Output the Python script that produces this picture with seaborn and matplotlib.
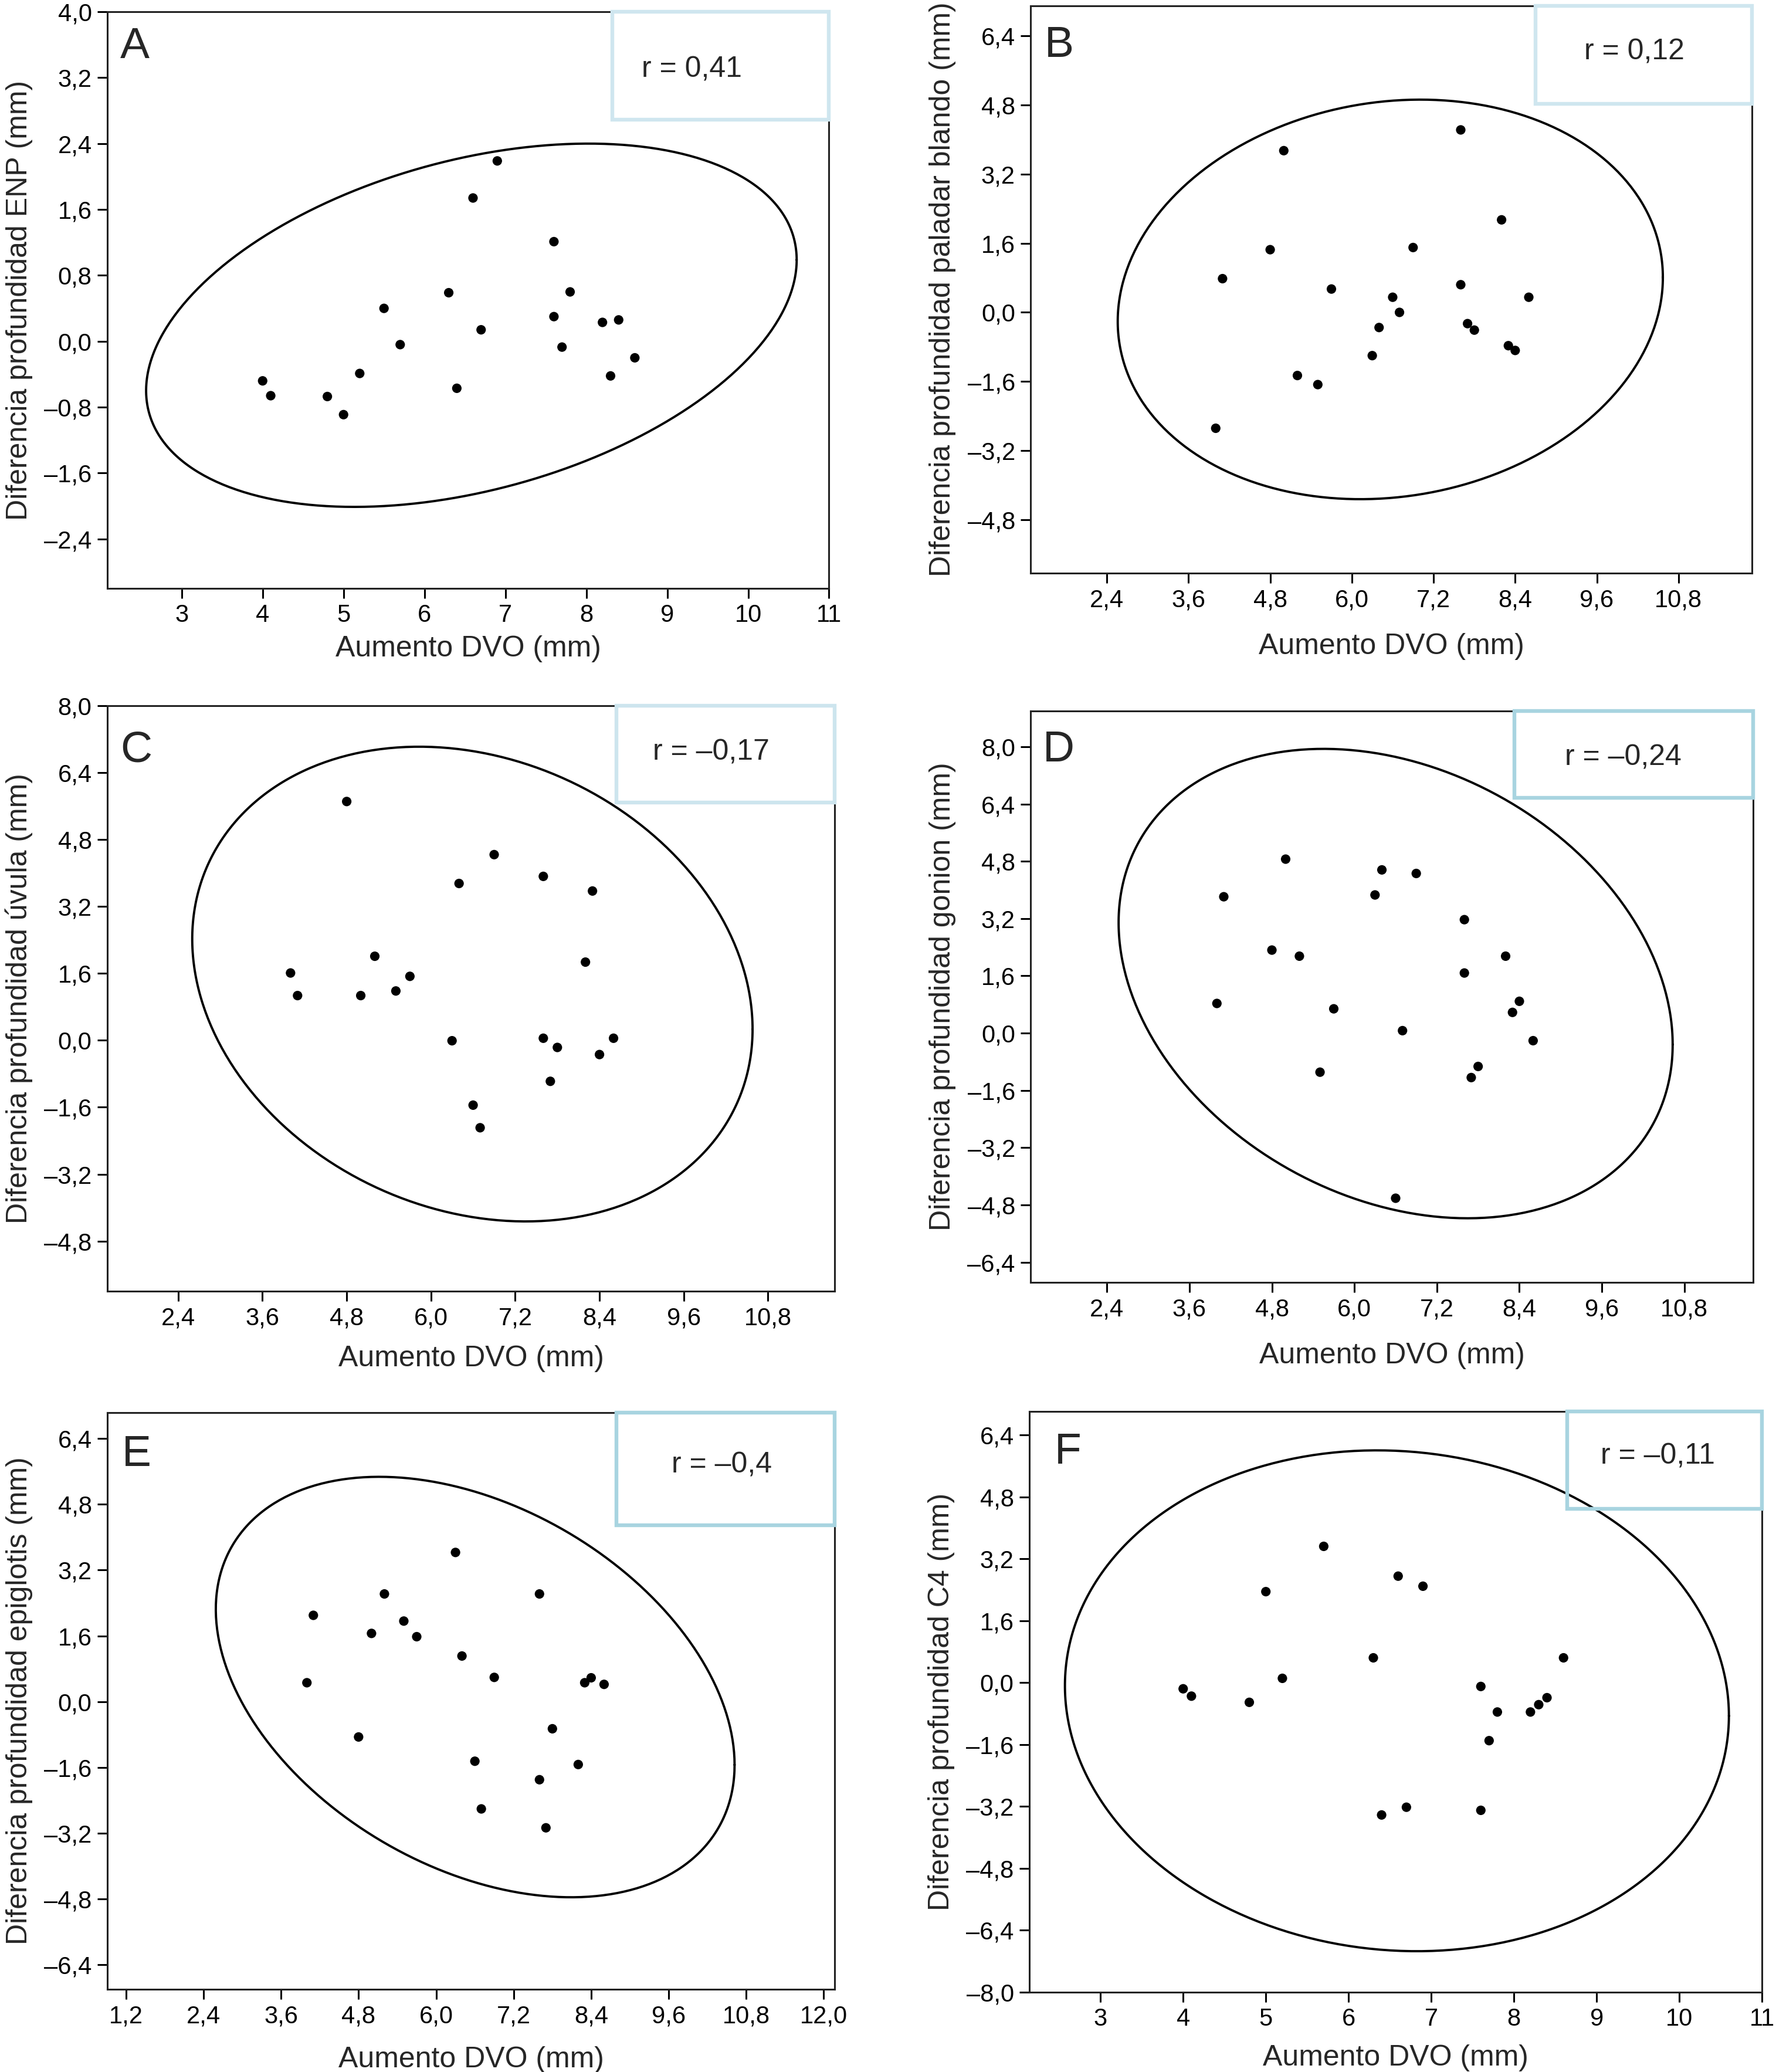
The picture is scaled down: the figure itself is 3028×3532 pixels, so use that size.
import numpy as np
import pandas as pd
import matplotlib.pyplot as plt
from matplotlib.patches import Rectangle
import seaborn as sns

# Aumento DVO (mm), mismo para todos los pacientes
dvo = [4.0, 4.1, 4.8, 5.0, 5.2, 5.5, 5.7, 6.3, 6.4, 6.6,
       6.7, 6.9, 7.6, 7.6, 7.7, 7.8, 8.2, 8.3, 8.4, 8.6]

# Diferencias de profundidad (mm) por panel
enp = [-0.48, -0.66, -0.67, -0.89, -0.39, 0.40, -0.04, 0.59, -0.57, 1.74,
       0.14, 2.19, 1.21, 0.30, -0.07, 0.60, 0.23, -0.42, 0.26, -0.20]
paladar = [-2.68, 0.78, 1.45, 3.74, -1.46, -1.67, 0.54, -1.00, -0.35, 0.35,
           0.00, 1.50, 4.22, 0.64, -0.26, -0.41, 2.14, -0.77, -0.88, 0.35]
uvula = [1.61, 1.07, 5.71, 1.07, 2.01, 1.18, 1.53, -0.01, 3.75, -1.55,
         -2.09, 4.44, 3.92, 0.05, -0.98, -0.17, 1.87, 3.57, -0.34, 0.05]
gonion = [0.83, 3.81, 2.32, 4.86, 2.15, -1.09, 0.68, 3.86, 4.56, -4.61,
          0.07, 4.46, 3.17, 1.68, -1.24, -0.93, 2.15, 0.58, 0.89, -0.21]
epiglotis = [0.46, 2.10, -0.86, 1.66, 2.62, 1.96, 1.58, 3.63, 1.11, -1.45,
             -2.61, 0.59, 2.62, -1.90, -3.07, -0.66, -1.53, 0.46, 0.58, 0.42]
# en C4 solo se ven 19 puntos (falta 5.5)
dvo_c4 = [4.0, 4.1, 4.8, 5.0, 5.2, 5.7, 6.3, 6.4, 6.6, 6.7,
          6.9, 7.6, 7.6, 7.7, 7.8, 8.2, 8.3, 8.4, 8.6]
c4 = [-0.16, -0.35, -0.51, 2.35, 0.11, 3.52, 0.64, -3.42, 2.75, -3.22,
      2.49, -0.10, -3.30, -1.50, -0.76, -0.76, -0.57, -0.39, 0.64]

letras = ["A", "B", "C", "D", "E", "F"]
r_textos = ["r = 0,41", "r = 0,12", "r = –0,17", "r = –0,24", "r = –0,4", "r = –0,11"]
ylabels = ["Diferencia profundidad ENP (mm)",
           "Diferencia profundidad paladar blando (mm)",
           "Diferencia profundidad úvula (mm)",
           "Diferencia profundidad gonion (mm)",
           "Diferencia profundidad epiglotis (mm)",
           "Diferencia profundidad C4 (mm)"]
xlabel = "Aumento DVO (mm)"

# elipses: centro, semiancho x, semialto y, correlacion
ell_cx = [6.58, 6.565, 6.59, 6.60, 6.605, 6.585]
ell_cy = [0.195, 0.30, 1.345, 1.385, 0.355, -0.47]
ell_ax = [4.02, 4.005, 3.99, 4.03, 4.015, 4.015]
ell_by = [2.205, 4.62, 5.675, 6.555, 5.115, 6.47]
ell_rho = [0.36, 0.11, -0.19, -0.26, -0.37, -0.06]

# ticks
xt_ent = [3, 4, 5, 6, 7, 8, 9, 10, 11]
xt_12 = [2.4, 3.6, 4.8, 6.0, 7.2, 8.4, 9.6, 10.8]
xt_e = [1.2, 2.4, 3.6, 4.8, 6.0, 7.2, 8.4, 9.6, 10.8, 12.0]
yt_a = [-2.4, -1.6, -0.8, 0.0, 0.8, 1.6, 2.4, 3.2, 4.0]
yt_b = [-4.8, -3.2, -1.6, 0.0, 1.6, 3.2, 4.8, 6.4]
yt_c = [-4.8, -3.2, -1.6, 0.0, 1.6, 3.2, 4.8, 6.4, 8.0]
yt_d = [-6.4, -4.8, -3.2, -1.6, 0.0, 1.6, 3.2, 4.8, 6.4, 8.0]
yt_e = [-6.4, -4.8, -3.2, -1.6, 0.0, 1.6, 3.2, 4.8, 6.4]
yt_f = [-8.0, -6.4, -4.8, -3.2, -1.6, 0.0, 1.6, 3.2, 4.8, 6.4]

paneles = [
    (dvo, enp, xt_ent, yt_a, (2.08, 11.0), (-3.0, 4.0)),
    (dvo, paladar, xt_12, yt_b, (1.28, 11.88), (-6.03, 7.09)),
    (dvo, uvula, xt_12, yt_c, (1.39, 11.75), (-6.0, 8.0)),
    (dvo, gonion, xt_12, yt_d, (1.29, 11.8), (-6.96, 9.0)),
    (dvo, epiglotis, xt_e, yt_e, (0.91, 12.17), (-7.0, 7.03)),
    (dvo_c4, c4, xt_ent, yt_f, (2.14, 11.0), (-8.0, 7.0)),
]

# posicion de cada eje en la figura [left, bottom, width, height]
posiciones = [
    [0.0604, 0.7160, 0.4064, 0.2783],
    [0.5803, 0.7234, 0.4062, 0.2738],
    [0.0604, 0.3768, 0.4096, 0.2826],
    [0.5803, 0.3811, 0.4068, 0.2758],
    [0.0604, 0.0399, 0.4096, 0.2783],
    [0.5796, 0.0385, 0.4125, 0.2802],
]
caja_x0 = [0.70, 0.70, 0.70, 0.67, 0.70, 0.734]
caja_y0 = [0.8125, 0.827, 0.835, 0.848, 0.805, 0.833]
caja_col = ["#cfe6ef", "#cfe6ef", "#cde5ee", "#a8d4e0", "#a8d4e0", "#a8d4e0"]
r_pos = [(0.81, 0.90), (0.837, 0.919), (0.83, 0.92), (0.82, 0.918), (0.845, 0.909), (0.858, 0.923)]
letra_pos = [(0.018, 0.94), (0.019, 0.93), (0.018, 0.924), (0.017, 0.932), (0.02, 0.927), (0.034, 0.93)]
xlabelpad = [5, 13, 9, 13, 11, 8]


def fmt(v, entero=False):
    s = f"{v:d}" if entero else f"{v:.1f}"
    return s.replace(".", ",").replace("-", "–")


sns.set_style("ticks")
plt.rcParams["font.family"] = ["Liberation Sans Narrow", "Liberation Sans", "DejaVu Sans"]
plt.rcParams["axes.linewidth"] = 1.1

fig = plt.figure(figsize=(15.14, 17.66), dpi=200)

for i, (xs, ys, xt, yt, xl, yl) in enumerate(paneles):
    ax = fig.add_axes(posiciones[i])
    df = pd.DataFrame({"x": xs, "y": ys})
    sns.scatterplot(data=df, x="x", y="y", ax=ax, color="black", s=34,
                    edgecolor="none", zorder=4)

    # elipse de confianza
    t = np.linspace(0, 2 * np.pi, 400)
    phi = np.arccos(ell_rho[i])
    ex = ell_cx[i] + ell_ax[i] * np.cos(t)
    ey = ell_cy[i] + ell_by[i] * np.cos(t + phi)
    ax.plot(ex, ey, color="black", lw=1.4, zorder=3)

    ax.set_xlim(*xl)
    ax.set_ylim(*yl)
    entero = isinstance(xt[0], int)
    ax.set_xticks(xt)
    ax.set_xticklabels([fmt(v, entero) for v in xt])
    ax.set_yticks(yt)
    ax.set_yticklabels([fmt(v) for v in yt])
    ax.tick_params(labelsize=15, length=6, width=1.1, direction="out", colors="black")
    for sp in ax.spines.values():
        sp.set_color("#222222")
    ax.set_xlabel(xlabel, fontsize=18, labelpad=xlabelpad[i])
    ax.set_ylabel(ylabels[i], fontsize=18, labelpad=7)

    # caja con r
    ax.add_patch(Rectangle((caja_x0[i], caja_y0[i]), 1 - caja_x0[i], 1 - caja_y0[i],
                           transform=ax.transAxes, fill=False, edgecolor=caja_col[i],
                           lw=2.3, clip_on=False, zorder=5))
    ax.text(r_pos[i][0], r_pos[i][1], r_textos[i], transform=ax.transAxes,
            ha="center", va="center", fontsize=18)
    ax.text(letra_pos[i][0], letra_pos[i][1], letras[i], transform=ax.transAxes,
            ha="left", va="center", fontsize=27)

fig.savefig("out.png", dpi=200, facecolor="white")
